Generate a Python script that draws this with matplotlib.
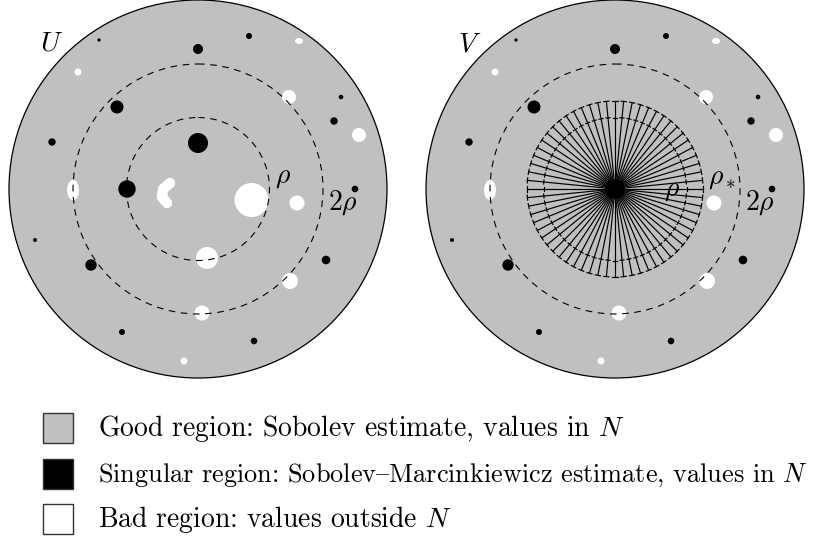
import matplotlib
matplotlib.use('Agg')
import matplotlib.pyplot as plt
import matplotlib.patches as mpatches
import numpy as np

plt.rcParams['font.family'] = ['cmr10', 'DejaVu Serif']
plt.rcParams['mathtext.fontset'] = 'cm'

# Palette
C_GOOD = '#C0C0C0'
C_SING = '#000000'
C_BAD = '#FFFFFF'

# Disc geometry (pixels)
centres_x = [198, 615]
centres_y = [189, 189]
disc_r = 189
rho = 71.5
rho_star = 88
two_rho = 125

# Blobs shared by both discs, relative to disc centre: x, y, radius
black_dx = [-99, 51, 0, 143, 136, -81, -146, 157, -163, -107, 128, -76, 56]
black_dy = [-149, -153, -140, -92, -68, -82, -47, 0, 51, 76, 71, 143, 152]
black_r = [1.6, 3, 5, 2.3, 3.7, 6.5, 3.7, 3.3, 2, 5.7, 4.3, 3, 3.3]

white_dx = [101, -120, 91, 161, -125, 99, 92, 4, -14]
white_dy = [-148, -117, -92, -54, 1, 14, 92, 124, 172]
white_w = [8, 7, 14, 14, 12, 15, 16, 15, 7]
white_h = [6, 7, 14, 14, 20, 15, 16, 15, 7]

# Blobs only in U (inside rho_star)
u_black_dx = [0, -71]
u_black_dy = [-46, 0]
u_black_r = [10, 8.7]
u_white_dx = [53.5, 9]
u_white_dy = [11, 69]
u_white_w = [34, 22]
u_white_h = [34, 22]
kidney_dx = [-28, -35, -36, -31]
kidney_dy = [-6, 0, 8, 14]

n_spokes = 64

# '{' is the en dash slot in the cmr10 font
legend_labels = [
    'Good region: Sobolev estimate, values in $N$',
    'Singular region: Sobolev{Marcinkiewicz estimate, values in $N$',
    'Bad region: values outside $N$',
]
legend_colors = [C_GOOD, C_SING, C_BAD]

FS = 20

fig = plt.figure(figsize=(8.18, 5.43), dpi=100)
ax = fig.add_axes([0, 0, 1, 1])
ax.set_xlim(0, 818)
ax.set_ylim(543, 0)
ax.axis('off')


def draw_blobs(cx, cy, dxs, dys, ws, hs, color):
    for dx, dy, w, h in zip(dxs, dys, ws, hs):
        ax.add_patch(mpatches.Ellipse((cx + dx, cy + dy), w, h,
                                      facecolor=color, edgecolor='none', zorder=2))


def dashed_circle(cx, cy, r):
    ax.add_patch(mpatches.Circle((cx, cy), r, fill=False, edgecolor='black',
                                 linewidth=0.8, linestyle=(0, (6, 5)), zorder=4))


for k, (cx, cy) in enumerate(zip(centres_x, centres_y)):
    ax.add_patch(mpatches.Circle((cx, cy), disc_r, facecolor=C_GOOD,
                                 edgecolor='black', linewidth=0.9, zorder=1))
    draw_blobs(cx, cy, black_dx, black_dy,
               [2 * r for r in black_r], [2 * r for r in black_r], C_SING)
    draw_blobs(cx, cy, white_dx, white_dy, white_w, white_h, C_BAD)
    dashed_circle(cx, cy, two_rho)

    if k == 0:
        draw_blobs(cx, cy, u_black_dx, u_black_dy,
                   [2 * r for r in u_black_r], [2 * r for r in u_black_r], C_SING)
        draw_blobs(cx, cy, u_white_dx, u_white_dy, u_white_w, u_white_h, C_BAD)
        ax.plot([cx + d for d in kidney_dx], [cy + d for d in kidney_dy],
                color=C_BAD, linewidth=7.5, solid_capstyle='round',
                solid_joinstyle='round', zorder=2)
        dashed_circle(cx, cy, rho)
        ax.text(cx + 85, cy - 12, r'$\rho$', fontsize=FS, ha='center', va='center')
        ax.text(cx - 146, cy - 146, r'$U$', fontsize=FS, ha='center', va='center')
    else:
        ang = np.linspace(0, 2 * np.pi, n_spokes, endpoint=False)
        for a in ang:
            ux, uy = np.cos(a), np.sin(a)
            px, py = -uy, ux
            ax.plot([cx, cx + rho_star * ux], [cy, cy + rho_star * uy],
                    color='black', linewidth=0.85, zorder=3)
            for rr, hl in ((rho_star, 2.6), (rho, 2.0)):
                ax.plot([cx + rr * ux - hl * px, cx + rr * ux + hl * px],
                        [cy + rr * uy - hl * py, cy + rr * uy + hl * py],
                        color='black', linewidth=0.85, zorder=3)
        ax.add_patch(mpatches.Circle((cx, cy), 10, facecolor=C_SING,
                                     edgecolor='none', zorder=5))
        ax.text(cx + 57, cy + 1, r'$\rho$', fontsize=FS, ha='center', va='center')
        ax.text(cx + 107, cy - 11, r'$\rho_*$', fontsize=FS, ha='center', va='center')
        ax.text(cx - 145, cy - 145, r'$V$', fontsize=FS, ha='center', va='center')
    ax.text(cx + 145, cy + 14, r'$2\rho$', fontsize=FS, ha='center', va='center')

# Legend (the long middle line is set a touch smaller so it fits the width)
for i, (lbl, col) in enumerate(zip(legend_labels, legend_colors)):
    y0 = 413 + i * 45.5
    ax.add_patch(mpatches.Rectangle((43, y0), 30, 30, facecolor=col,
                                    edgecolor='#333333', linewidth=1.0))
    ax.text(98, y0 + 23, lbl, fontsize=18.9 if i == 1 else 19.9,
            ha='left', va='baseline')

fig.savefig('out.png', dpi=100)
